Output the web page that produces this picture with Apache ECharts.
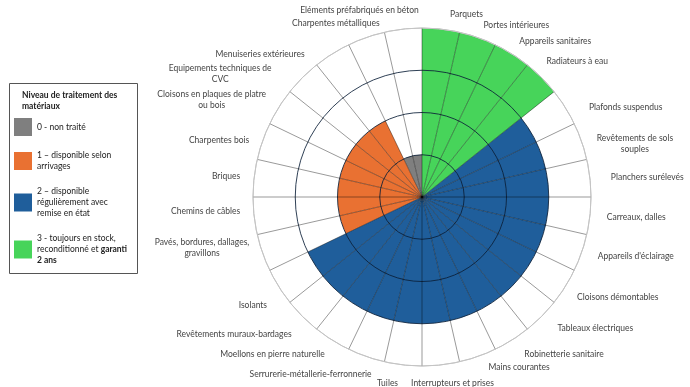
<!DOCTYPE html>
<html><head><meta charset="utf-8">
<script src="https://cdn.jsdelivr.net/npm/echarts@6/dist/echarts.min.js"></script>
<style>html,body{margin:0;padding:0;background:#fff}#c{width:690px;height:387px}</style>
</head><body><div id="c"></div>
<script>
const categories = ['Parquets','Portes intérieures','Appareils sanitaires','Radiateurs à eau','Plafonds suspendus','Revêtements de sols\nsouples','Planchers surélevés','Carreaux, dalles',"Appareils d'éclairage",'Cloisons démontables','Tableaux électriques','Robinetterie sanitaire','Mains courantes','Interrupteurs et prises','Tuiles','Serrurerie-métallerie-ferronnerie','Moellons en pierre naturelle','Revêtements muraux-bardages','Isolants','Pavés, bordures, dallages,\ngravillons','Chemins de câbles','Briques','Charpentes bois','Cloisons en plaques de platre\nou bois','Equipements techniques de\nCVC','Menuiseries extérieures','Charpentes métalliques','Eléments préfabriqués en béton'];
// bar height (ring reached) per category
const heights = [4,4,4,4,3,3,3,3,3,3,3,3,3,3,3,3,3,3,3,2,2,2,2,2,2,2,1,1];
const levelNames = ['0 - non traité','1 – disponible selon arrivages','2 – disponible régulièrement avec remise en état','3 - toujours en stock, reconditionné et garanti 2 ans'];
const levelLegendText = ['0 - non traité','1 – disponible selon\narrivages','2 – disponible\nrégulièrement avec\nremise en état','3 - toujours en stock,\nreconditionné et {b|garanti}\n{b|2 ans}'];
const levelColors = ['#7f7f7f','#E97132','#1F5E9B','#47D45A'];
const radiusMax = 4;

// ---- layout tuning (label nudges in px, not data) ----
const labelNudge = [[24,5],[1,6],[0,5],[-5,-1],[12,13],[2,18],[7,1],[3,0],[3,-7],[0,-3],[6,-4],[5,-3],[6,-8],[10,-1],[-14,-1],[10,-1],[0,-3],[-1,2],[0,5],[0,-21],[0,-6],[0,0],[0,9],[-1,11],[-21,17],[-20,18],[18,4],[-42,1]];
const FONT = 'Lato';
const N = categories.length;
function padFor(i) {
  const th = (i + 0.5) * 2 * Math.PI / N;
  const sx = Math.sin(th), cy = Math.cos(th);
  const h = Math.abs(sx) < 0.3 ? 'center' : (sx > 0 ? 'left' : 'right');
  const v = Math.abs(cy) < 0.3 ? 'middle' : (cy > 0 ? 'bottom' : 'top');
  const [dx, dy] = labelNudge[i];
  let t = 0, r = 0, b = 0, l = 0;
  if (h === 'center') l = 2 * dx; else if (h === 'left') l = dx; else r = -dx;
  if (v === 'middle') t = 2 * dy; else if (v === 'top') t = dy; else b = -dy;
  return [t, r, b, l];
}
const angleData = categories.map((c, i) => ({value: c, textStyle: {padding: padFor(i)}}));

const chart = echarts.init(document.getElementById('c'), null, {renderer:'canvas'});
const series = levelNames.map((name, k) => ({
  type: 'bar', coordinateSystem: 'polar', name: name, stack: 'all',
  barCategoryGap: '0%', itemStyle: {color: levelColors[k]},
  data: heights.map(h => (h === k + 1 ? h : '-')),
  z: 2
}));
chart.setOption({
  animation: false,
  title: {text: 'Niveau de traitement des\nmatériaux', left: 17, top: 85,
    textStyle: {fontFamily: FONT, fontSize: 8.5, fontWeight: 'bold', color: '#222', lineHeight: 11}},
  legend: {orient: 'vertical', left: 9, top: 113, itemWidth: 18, itemHeight: 18, itemGap: 14,
    icon: 'rect', data: levelNames,
    formatter: n => levelLegendText[levelNames.indexOf(n)],
    textStyle: {fontFamily: FONT, fontSize: 8.5, color: '#222', lineHeight: 11,
      rich: {b: {fontFamily: FONT, fontSize: 8.5, fontWeight: 'bold', color: '#222', lineHeight: 11}}}},
  graphic: [{type: 'rect', shape: {x: 9.5, y: 83.5, width: 128, height: 190},
    style: {fill: 'none', stroke: '#555', lineWidth: 1}}],
  polar: {center: [422, 197], radius: 169},
  angleAxis: {type: 'category', data: angleData, startAngle: 90, clockwise: true, z: 5,
    axisLine: {show: true, lineStyle: {color: '#c4c4c4', width: 1}},
    axisTick: {show: false},
    axisLabel: {margin: 14, fontFamily: FONT, fontSize: 8.5, color: '#444', lineHeight: 11,
      formatter: v => v.indexOf('\n') >= 0 ? v.split('\n').map(s => '{c|' + s + '}').join('\n') : v,
      rich: {c: {align: 'center', fontFamily: FONT, fontSize: 8.5, color: '#444', lineHeight: 11}}},
    splitLine: {show: true, lineStyle: {color: 'rgba(0,0,0,0.5)', width: 0.8}}},
  radiusAxis: {type: 'value', min: 0, max: radiusMax, interval: 1, z: 5,
    axisLine: {show: false}, axisTick: {show: false}, axisLabel: {show: false},
    splitLine: {show: true, lineStyle: {color: ['#fff','rgba(10,30,55,0.85)','rgba(10,30,55,0.85)','rgba(10,30,55,0.85)','#c4c4c4'], width: 1}}},
  series: series
});
</script></body></html>
